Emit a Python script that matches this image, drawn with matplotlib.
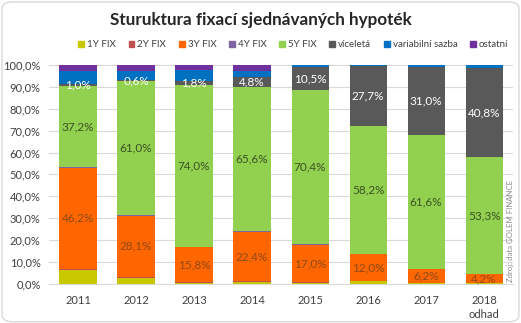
import matplotlib
matplotlib.use("Agg")
import matplotlib.pyplot as plt
import numpy as np
from matplotlib.patches import FancyBboxPatch, Patch

plt.rcParams["font.family"] = ["Lato", "DejaVu Sans"]

years = ["2011", "2012", "2013", "2014", "2015", "2016", "2017", "2018\nodhad"]
series_names = ["1Y FIX", "2Y FIX", "3Y FIX", "4Y FIX", "5Y FIX", "víceletá",
                "variabilní sazba", "ostatní"]

fix_1y = [6.3, 2.5, 0.5, 1.0, 0.5, 1.2, 0.3, 0.2]
fix_2y = [0.6, 0.6, 0.4, 0.3, 0.3, 0.3, 0.1, 0.1]
fix_3y = [46.2, 28.1, 15.8, 22.4, 17.0, 12.0, 6.2, 4.2]
fix_4y = [0.2, 0.3, 0.3, 0.5, 0.3, 0.2, 0.0, 0.0]
fix_5y = [37.2, 61.0, 74.0, 65.6, 70.4, 58.2, 61.6, 53.3]
viceleta = [1.0, 0.6, 1.8, 4.8, 10.5, 27.7, 31.0, 40.8]
variabilni = [5.5, 4.0, 5.0, 2.7, 1.0, 0.4, 0.8, 1.4]
ostatni = [3.0, 2.9, 2.2, 2.7, 0.0, 0.0, 0.0, 0.0]

colors = ["#C8C800", "#C0504D", "#FF6600", "#8064A2", "#92D050", "#595959",
          "#0070C0", "#7030A0"]

data = [fix_1y, fix_2y, fix_3y, fix_4y, fix_5y, viceleta, variabilni, ostatni]
# which series get labels and in which colour
label_colors = {2: "#8C4A1A", 4: "#3B5323", 5: "white"}

fig = plt.figure(figsize=(5.21, 3.23), dpi=100)
fig.patches.append(FancyBboxPatch((0.004, 0.004), 0.992, 0.99,
                                  boxstyle="round,pad=0,rounding_size=0.02",
                                  transform=fig.transFigure, facecolor="white",
                                  edgecolor="#D9D9D9", linewidth=1.0, zorder=-1))
ax = fig.add_axes([0.094, 0.121, 0.891, 0.678])

x = np.arange(len(years))
bottom = np.zeros(len(years))
for i, (name, vals) in enumerate(zip(series_names, data)):
    vals = np.array(vals)
    ax.bar(x, vals, 0.64, bottom=bottom, color=colors[i], label=name, zorder=2)
    if i in label_colors:
        for xi, v, b in zip(x, vals, bottom):
            ax.text(xi, b + v / 2, f"{v:.1f}%".replace(".", ","), ha="center",
                    va="center", fontsize=8.5, color=label_colors[i], zorder=3)
    bottom += vals

ax.set_xlim(-0.5, len(years) - 0.5)
ax.set_ylim(0, 100)
ax.set_yticks(np.arange(0, 101, 10))
ax.set_yticklabels([f"{v:.1f}%".replace(".", ",") for v in np.arange(0, 101, 10)])
ax.set_xticks(x, years, linespacing=1.35)
ax.tick_params(length=0, labelsize=8, colors="#404040", pad=6)
ax.tick_params(axis="x", pad=8)
ax.grid(axis="y", color="#D9D9D9", linewidth=0.8, zorder=0)
ax.set_axisbelow(True)
for s in ["top", "right", "left"]:
    ax.spines[s].set_visible(False)
ax.spines["bottom"].set_color("#D9D9D9")

fig.text(0.5, 0.938, "Sturuktura fixací sjednávaných hypoték", ha="center",
         va="center", fontsize=12.3, fontweight="bold", color="#262626")

handles = [Patch(color=c) for c in colors]
fig.legend(handles, series_names, loc="center right", bbox_to_anchor=(0.992, 0.861),
           ncol=8, frameon=False, fontsize=7, handlelength=0.6, handleheight=0.6,
           handletextpad=0.3, columnspacing=1.3, labelcolor="#404040")

fig.text(0.979, 0.127, "Zdroj: data GOLEM FINANCE", rotation=90, ha="center",
         va="bottom", fontsize=5.6, color="#8C8C8C")

fig.savefig("out.png", dpi=100)
